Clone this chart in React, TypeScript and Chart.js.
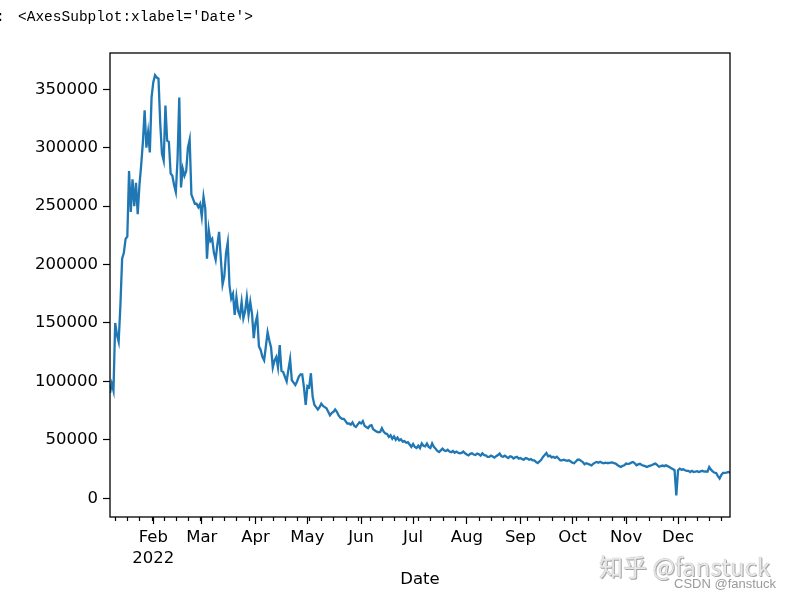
import React, { useEffect, useRef } from 'react';
import { Chart, registerables } from 'chart.js';

Chart.register(...registerables);

// ---- data (daily values, 2022) ----
const monthNames = ['Jan', 'Feb', 'Mar', 'Apr', 'May', 'Jun', 'Jul', 'Aug', 'Sep', 'Oct', 'Nov', 'Dec'];
const monthStartDays = [0, 31, 59, 90, 120, 151, 181, 212, 243, 273, 304, 334];
const yearLabel = '2022';
const firstDay = 6; // Jan 7
const lastDay = 364; // Dec 31
const firstMonday = 2; // Jan 3

const jan = [90000, 98000, 92000, 150000, 140000, 134000, 165000, 205000, 210000, 222000, 224000, 280000, 245000, 273000, 250000, 270000, 243000, 268000, 285000, 305000, 332000, 300000, 313000, 296000, 343000];
const feb = [356000, 362000, 360000, 359000, 321000, 295000, 289000, 336000, 306000, 305000, 278000, 276000, 268000, 262000, 290000, 343000, 266000, 282000, 276000, 280000, 300000, 307000, 260000, 256000, 252000, 252000, 249000, 252000];
const mar = [241000, 258000, 248000, 205000, 230000, 220000, 222000, 210000, 204000, 217000, 228000, 205000, 183000, 190000, 210000, 219000, 182000, 171000, 175000, 157000, 172000, 160000, 156000, 168000, 154000, 160000, 172000, 157000, 168000, 158000, 137000];
const apr = [150000, 156000, 130000, 127000, 121000, 118000, 130000, 142000, 135000, 129000, 112000, 118000, 121000, 112000, 131000, 109000, 108000, 104000, 100000, 110000, 119000, 101000, 99000, 97000, 100000, 104000, 106000, 106000, 95000, 80000];
const may = [96000, 95000, 107000, 87000, 80000, 78000, 76000, 78000, 81000, 79000, 78000, 77000, 74000, 71000, 73000, 74000, 76000, 74000, 71000, 69000, 68000, 68000, 66000, 64000, 64000, 63000, 65000, 62000, 61000, 63000, 65000];
const jun = [64000, 66000, 62000, 61000, 60000, 62000, 62500, 59000, 58000, 57000, 56500, 56800, 60000, 57000, 55500, 55000, 52500, 54000, 51000, 53000, 50000, 52000, 49600, 50500, 48500, 49000, 47500, 48000, 46000, 44000];
const jul = [46500, 44000, 43000, 45000, 43000, 47000, 45000, 44500, 46800, 44000, 43000, 47000, 44000, 42500, 40500, 39600, 41000, 42500, 41000, 40500, 41500, 40000, 39500, 40500, 39000, 40000, 39000, 38500, 38800, 40000, 38500];
const aug = [37500, 36800, 38000, 38500, 37500, 37000, 38300, 37700, 36500, 38500, 37000, 36800, 35400, 35400, 36500, 35800, 34800, 36000, 37000, 38300, 36000, 35500, 36500, 35400, 34500, 36000, 35500, 34000, 35000, 35500, 34000];
const sep = [34500, 33500, 33100, 34500, 34000, 33000, 33500, 32500, 32500, 31000, 30200, 31500, 33000, 35400, 37000, 38800, 36000, 36500, 35000, 35500, 34500, 35500, 34000, 32500, 32500, 33000, 32500, 32000, 32500, 31500];
const oct = [30500, 30000, 31500, 33000, 33100, 32000, 31000, 29100, 30000, 29500, 28800, 28200, 29500, 30500, 31100, 30500, 31300, 30500, 30000, 30500, 30200, 30200, 30500, 30700, 30000, 29700, 28500, 27500, 26800, 27800, 28200];
const nov = [29700, 29500, 29700, 30500, 31100, 30000, 28200, 29000, 29500, 28500, 28000, 27500, 26800, 27500, 28000, 28500, 29200, 29700, 28500, 27000, 27500, 28000, 27500, 28200, 27500, 26800, 25800, 25000, 24000, 2500];
const dec = [24000, 25400, 24500, 24800, 24000, 23500, 23500, 22500, 23500, 22500, 22800, 23200, 22500, 23000, 23500, 22800, 23000, 22800, 26800, 24500, 23000, 22000, 21700, 19000, 16900, 20000, 21700, 21700, 22000, 22500, 21800];

const monthlyValues = [jan, feb, mar, apr, may, jun, jul, aug, sep, oct, nov, dec];
const yTicks = [0, 50000, 100000, 150000, 200000, 250000, 300000, 350000];
const yMin = -16000;
const yMax = 381000;

const points: { x: number; y: number }[] = [];
monthlyValues.forEach((vals, m) => {
  const start = m === 0 ? firstDay : monthStartDays[m];
  vals.forEach((v, i) => points.push({ x: start + i, y: v }));
});

const majorDays = monthStartDays.filter((d) => d >= firstDay && d <= lastDay);
const minorDays: number[] = [];
for (let d = firstMonday; d <= lastDay; d += 7) {
  if (d >= firstDay && !majorDays.includes(d)) minorDays.push(d);
}

const framePlugin = {
  id: 'frameAndMinor',
  afterDraw(chart: any) {
    const { ctx, chartArea: a, scales } = chart;
    ctx.save();
    ctx.strokeStyle = '#000';
    ctx.lineWidth = 1.2;
    ctx.beginPath();
    for (const d of minorDays) {
      const px = Math.round(scales.x.getPixelForValue(d)) + 0.5;
      ctx.moveTo(px, a.bottom);
      ctx.lineTo(px, a.bottom + 4);
    }
    ctx.stroke();
    ctx.lineWidth = 1.3;
    ctx.strokeRect(a.left, a.top, a.right - a.left, a.bottom - a.top);
    ctx.restore();
  },
};

const tickFont = { family: "'DejaVu Sans'", size: 16.5, lineHeight: 1.27 };

export default function App() {
  const ref = useRef<HTMLCanvasElement>(null);
  useEffect(() => {
    const chart = new Chart(ref.current as HTMLCanvasElement, {
      type: 'line',
      data: {
        datasets: [
          {
            data: points,
            borderColor: '#1f77b4',
            borderWidth: 2.3,
            pointRadius: 0,
            tension: 0,
            fill: false,
          },
        ],
      },
      options: {
        responsive: false,
        animation: false,
        devicePixelRatio: 1,
        parsing: false as any,
        layout: { padding: { top: 53, right: 63, left: 0, bottom: 0 } },
        plugins: { legend: { display: false }, tooltip: { enabled: false } },
        scales: {
          x: {
            type: 'linear',
            min: firstDay,
            max: lastDay,
            afterBuildTicks: (scale: any) => {
              scale.ticks = majorDays.map((v) => ({ value: v }));
            },
            afterFit: (scale: any) => {
              scale.height = 81;
            },
            ticks: {
              autoSkip: false,
              maxRotation: 0,
              padding: 3,
              color: '#000',
              font: tickFont,
              callback: (v: any) => {
                const idx = monthStartDays.indexOf(Number(v));
                const name = monthNames[idx];
                return idx === 1 ? [name, yearLabel] : name;
              },
            },
            grid: { display: true, drawOnChartArea: false, drawTicks: true, tickLength: 7, tickColor: '#000', tickWidth: 1.2 },
            border: { display: false },
            title: {
              display: true,
              text: 'Date',
              color: '#000',
              font: { family: "'DejaVu Sans'", size: 16.5, lineHeight: 1.2 },
              padding: { top: 0, bottom: 8 },
            },
          },
          y: {
            type: 'linear',
            min: yMin,
            max: yMax,
            afterBuildTicks: (scale: any) => {
              scale.ticks = yTicks.map((v) => ({ value: v }));
            },
            afterFit: (scale: any) => {
              scale.width = 110;
            },
            ticks: {
              padding: 5,
              color: '#000',
              font: tickFont,
              callback: (v: any) => String(v),
            },
            grid: { display: true, drawOnChartArea: false, drawTicks: true, tickLength: 7, tickColor: '#000', tickWidth: 1.2 },
            border: { display: false },
          },
        },
      },
      plugins: [framePlugin],
    } as any);
    return () => chart.destroy();
  }, []);

  return (
    <div style={{ position: 'absolute', left: 0, top: 0, width: 793, height: 598, background: '#fff', overflow: 'hidden' }}>
      <canvas ref={ref} width={793} height={598} style={{ position: 'absolute', left: 0, top: 0, width: 793, height: 598 }} />
      <div style={{ position: 'absolute', left: -4, top: 9, fontFamily: "'Liberation Mono'", fontSize: 14.5, color: '#000', whiteSpace: 'pre' }}>:</div>
      <div style={{ position: 'absolute', left: 18, top: 9, fontFamily: "'Liberation Mono'", fontSize: 14.5, color: '#000', whiteSpace: 'pre' }}>
        {"<AxesSubplot:xlabel='Date'>"}
      </div>
      <div
        style={{
          position: 'absolute',
          left: 599,
          top: 548,
          fontFamily: "'Noto Sans CJK SC', 'Noto Sans'",
          fontSize: 24,
          color: '#e8e8e8',
          whiteSpace: 'pre',
          textShadow: '0 0 1px #888, 1px 1px 0 #aaa',
        }}
      >
        知乎 @fanstuck
      </div>
      <div
        style={{
          position: 'absolute',
          left: 674,
          top: 576,
          fontFamily: "'Liberation Sans'",
          fontSize: 13,
          color: '#9a9a9a',
          whiteSpace: 'pre',
        }}
      >
        CSDN @fanstuck
      </div>
    </div>
  );
}
